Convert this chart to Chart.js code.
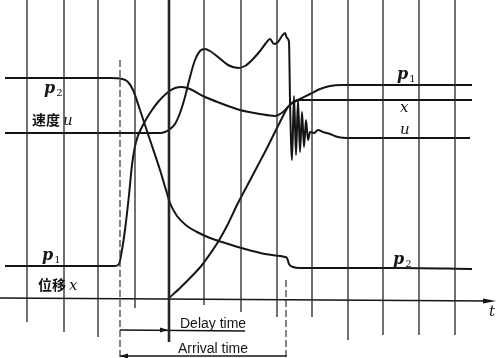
<!DOCTYPE html>
<html>
<head>
<meta charset="utf-8">
<script src="https://cdn.jsdelivr.net/npm/chart.js@4/dist/chart.umd.min.js"></script>
<style>
  html, body { margin: 0; padding: 0; background: #fff; }
</style>
</head>
<body>
<canvas id="oscillo" width="500" height="358"></canvas>
<script>
// time positions of the vertical grid lines
const gridT = [27, 64, 98, 135, 169, 204, 241, 277, 312, 348, 383, 419, 455];

// p2 - pressure, falls after the valve opens
const p2T = [5, 60, 110, 122, 128, 133, 140, 150, 160, 166, 170, 177, 187, 197, 210, 225, 245, 265, 285, 287, 289, 293, 300, 340, 400, 472];
const p2V = [78, 78, 78, 79, 82, 90, 110, 140, 170, 190, 203, 216, 226, 232, 238, 243, 249, 254, 257, 258, 264, 267, 268, 268, 268, 269];

// p1 - pressure, rises
const p1T = [5, 60, 115, 119, 122, 125, 129, 132, 136, 142, 150, 158, 167, 175, 182, 190, 203, 220, 240, 260, 275, 283, 291, 300, 310, 320, 330, 342, 360, 420, 472];
const p1V = [266, 266, 266, 264, 250, 230, 195, 165, 142, 127, 113, 102, 93, 88, 87, 89, 96, 103, 110, 114, 116, 112, 104, 99, 94, 89, 86, 85, 85, 85, 85];

// u - velocity
const uT = [5, 100, 160, 165, 170, 175, 180, 185, 190, 195, 200, 205, 210, 218, 228, 238, 245, 253, 260, 266, 270, 274, 278, 282, 285, 287, 289, 290, 292, 294, 296, 298, 300, 302, 304, 306, 308, 310, 314, 318, 323, 330, 338, 350, 400, 470];
const uV = [133, 133, 133, 132, 129, 124, 113, 97, 77, 60, 51, 49, 51, 57, 65, 68, 66, 59, 51, 43, 39, 44, 42, 36, 33, 38, 42, 100, 160, 96, 155, 100, 152, 112, 147, 120, 140, 132, 133, 130, 132, 134, 137, 138, 138, 138];

// x - displacement
const xT = [168, 180, 192, 202, 210, 218, 228, 237, 247, 257, 266, 275, 282, 288, 293, 300, 340, 400, 472];
const xV = [299, 288, 276, 265, 254, 242, 224, 205, 186, 167, 150, 132, 118, 107, 102, 100, 100, 100, 100];

// time axis
const axisT = [0, 490];
const axisV = [298, 301];

// start of the event, end of delay, arrival
const tStart = 120;
const tDelay = 168;
const tArrive = 287;

const gridEnd = [322, 332, 337, 308, 342, 305, 312, 317, 317, 340, 335, 335, 335];

function pts(ts, vs) {
  return ts.map((t, i) => ({ x: t, y: vs[i] }));
}

const ink = '#151515';

const datasets = [];
gridT.forEach((t, i) => {
  datasets.push({
    data: [{ x: t, y: 0 }, { x: t, y: gridEnd[i] }],
    borderColor: '#262626',
    borderWidth: t === 169 ? 2.6 : 1.3,
    pointRadius: 0
  });
});
datasets.push({ data: [{ x: tStart, y: 60 }, { x: tStart, y: 358 }], borderColor: '#333', borderWidth: 1.2, borderDash: [7, 3], pointRadius: 0 });
datasets.push({ data: [{ x: tArrive - 1, y: 280 }, { x: tArrive - 1, y: 358 }], borderColor: '#333', borderWidth: 1.2, borderDash: [7, 3], pointRadius: 0 });
datasets.push({ data: pts(axisT, axisV), borderColor: ink, borderWidth: 1.6, pointRadius: 0 });
datasets.push({ data: [{ x: tStart, y: 330 }, { x: 245, y: 331 }], borderColor: ink, borderWidth: 1.4, pointRadius: 0 });
datasets.push({ data: [{ x: tStart, y: 356 }, { x: tArrive, y: 356 }], borderColor: ink, borderWidth: 1.4, pointRadius: 0 });

[[p2T, p2V], [p1T, p1V], [uT, uV], [xT, xV]].forEach(([ts, vs]) => {
  datasets.push({
    data: pts(ts, vs),
    borderColor: ink,
    borderWidth: 2,
    pointRadius: 0,
    cubicInterpolationMode: 'monotone'
  });
});

// labels: [text, subscript, t, value, kind]
const labels = [
  ['p', '2', 44, 93, 'p'],
  ['速度', 'u', 32, 125, 'cn'],
  ['p', '1', 42, 260, 'p'],
  ['位移', 'x', 38, 290, 'cn'],
  ['p', '1', 397, 79, 'p'],
  ['x', '', 400, 112, 'it'],
  ['u', '', 400, 134, 'it'],
  ['p', '2', 393, 264, 'p'],
  ['t', '', 489, 316, 'it']
];

const annotate = {
  id: 'annotate',
  afterDatasetsDraw(chart) {
    const ctx = chart.ctx;
    const sx = chart.scales.x, sy = chart.scales.y;
    ctx.save();
    ctx.fillStyle = ink;
    ctx.textBaseline = 'alphabetic';
    labels.forEach(([txt, sub, t, v, kind]) => {
      const px = sx.getPixelForValue(t), py = sy.getPixelForValue(v);
      if (kind === 'p') {
        ctx.font = 'italic bold 16px "DejaVu Serif"';
        ctx.fillText(txt, px, py);
        const w = ctx.measureText(txt).width;
        ctx.font = '10px "DejaVu Serif"';
        ctx.fillText(sub, px + w + 1, py + 3);
      } else if (kind === 'cn') {
        ctx.font = 'bold 14px "Noto Sans CJK SC"';
        ctx.fillText(txt, px, py);
        const w = ctx.measureText(txt).width;
        ctx.font = 'italic 15px "DejaVu Serif"';
        ctx.fillText(sub, px + w + 3, py);
      } else {
        ctx.font = 'italic 15px "DejaVu Serif"';
        ctx.fillText(txt, px, py);
      }
    });

    ctx.font = '14px "Liberation Sans"';
    ctx.fillText('Delay time', sx.getPixelForValue(180), sy.getPixelForValue(328));
    ctx.fillText('Arrival time', sx.getPixelForValue(178), sy.getPixelForValue(353));

    // arrow heads
    function arrow(t, v, dir, len) {
      const px = sx.getPixelForValue(t), py = sy.getPixelForValue(v);
      ctx.beginPath();
      ctx.moveTo(px, py);
      ctx.lineTo(px - dir * len, py - 2.5);
      ctx.lineTo(px - dir * len, py + 2.5);
      ctx.closePath();
      ctx.fill();
    }
    arrow(496, 301, 1, 13);
    arrow(tDelay, 330, 1, 8);
    arrow(tStart, 356, -1, 8);
    ctx.restore();
  }
};

new Chart(document.getElementById('oscillo'), {
  type: 'line',
  data: { datasets },
  options: {
    responsive: false,
    animation: false,
    parsing: true,
    layout: { padding: 0 },
    plugins: { legend: { display: false }, tooltip: { enabled: false } },
    scales: {
      x: { type: 'linear', min: 0, max: 500, display: false },
      y: { type: 'linear', min: 0, max: 358, reverse: true, display: false }
    }
  },
  plugins: [annotate]
});
</script>
</body>
</html>
